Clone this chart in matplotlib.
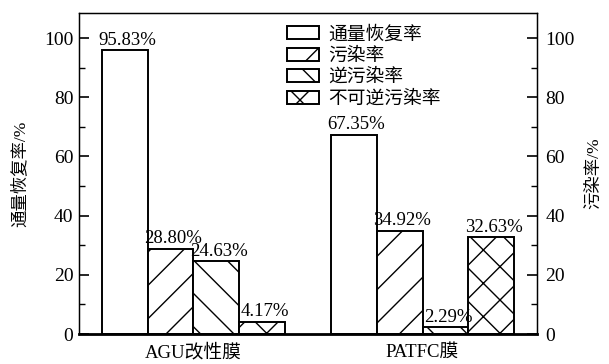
import numpy as np
import matplotlib.pyplot as plt
from matplotlib.ticker import MultipleLocator

plt.rcParams['font.family'] = ['Liberation Serif', 'Noto Sans CJK SC']
plt.rcParams['hatch.linewidth'] = 1.0

membranes = ["AGU改性膜", "PATFC膜"]
series = ["通量恢复率", "污染率", "逆污染率", "不可逆污染率"]
flux_recovery = [95.83, 67.35]
fouling = [28.80, 34.92]
rev_fouling = [24.63, 2.29]
irrev_fouling = [4.17, 32.63]
hatches = ["", "/", "\\", "x"]

values = [flux_recovery, fouling, rev_fouling, irrev_fouling]

fig = plt.figure(figsize=(6.09, 3.64), dpi=100)
ax = fig.add_axes([0.1297, 0.0824, 0.7521, 0.8819])

x = np.arange(len(membranes))
w = 0.2
for i, (name, vals) in enumerate(zip(series, values)):
    pos = x + (i - 1.5) * w
    bars = ax.bar(pos, vals, w, color="white", edgecolor="black",
                  linewidth=1.4, hatch=hatches[i], label=name)
    for b, v in zip(bars, vals):
        ax.annotate(f"{v:.2f}%", (b.get_x() + b.get_width() / 2, v),
                    xytext=(2, 1), textcoords="offset points",
                    ha="center", va="bottom", fontsize=13.5)

ax.set_xlim(-0.5, 1.5)
ax.set_ylim(0, 108.5)
ax.set_xticks(x)
ax.set_xticklabels(membranes, fontsize=13.5)
ax.tick_params(axis="x", length=0, pad=7)
ax.yaxis.set_major_locator(MultipleLocator(20))
ax.yaxis.set_minor_locator(MultipleLocator(10))
ax.tick_params(axis="y", which="major", direction="in", length=7, width=1.2, labelsize=14, pad=4)
ax.tick_params(axis="y", which="minor", direction="in", length=4, width=1.0)
ax.set_ylabel("通量恢复率/%", fontsize=12.5, labelpad=11)
for s in ax.spines.values():
    s.set_linewidth(1.0)
ax.spines["bottom"].set_linewidth(2.0)

ax2 = ax.twinx()
ax2.set_ylim(ax.get_ylim())
ax2.yaxis.set_major_locator(MultipleLocator(20))
ax2.yaxis.set_minor_locator(MultipleLocator(10))
ax2.tick_params(axis="y", which="major", direction="in", length=7, width=1.2, labelsize=14, pad=6)
ax2.tick_params(axis="y", which="minor", direction="in", length=4, width=1.0)
ax2.set_ylabel("污染率/%", fontsize=12.5, labelpad=8)

ax.legend(loc="upper left", bbox_to_anchor=(0.455, 0.96), frameon=False,
          fontsize=13.5, handlelength=1.7, handleheight=0.7,
          labelspacing=0.22, handletextpad=0.5, borderpad=0.0, borderaxespad=0.0)

fig.savefig("out.png", dpi=100)
